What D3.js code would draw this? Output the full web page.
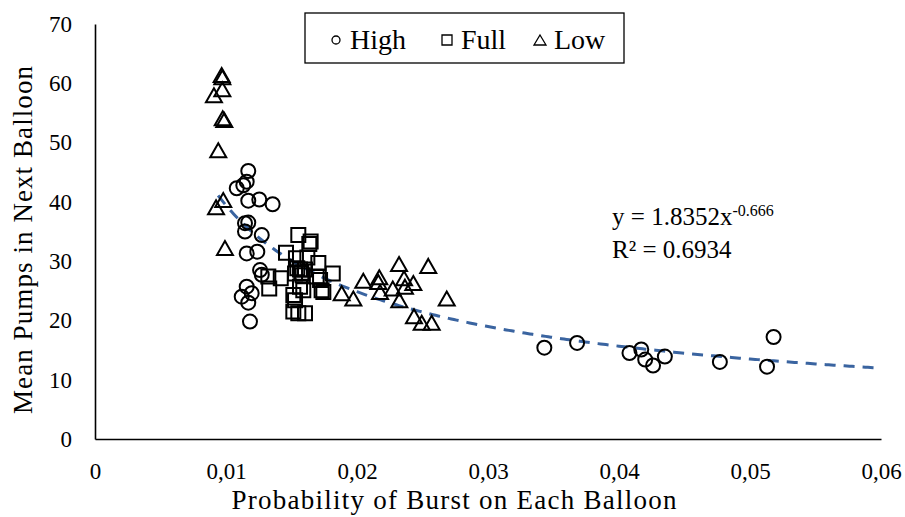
<!DOCTYPE html>
<html>
<head>
<meta charset="utf-8">
<script src="https://cdn.jsdelivr.net/npm/d3@7"></script>
<style>
  body { margin: 0; background: #fff; }
  svg { display: block; font-family: "Liberation Serif", "DejaVu Serif", serif; }
</style>
</head>
<body>
<div id="chart"></div>
<script>
// burst probability (x) and mean pumps (y)
const highX = [0.0343, 0.0368, 0.0408, 0.0417, 0.0420, 0.0426, 0.0435, 0.0477, 0.0513, 0.0518,
    0.01082, 0.01132, 0.01158, 0.0117, 0.0117, 0.01254, 0.01356, 0.01145, 0.0117, 0.01145,
    0.01273, 0.01158, 0.01239, 0.0126, 0.01273, 0.01158, 0.01196, 0.0112, 0.0117, 0.01183];
const highY = [15.4, 16.2, 14.5, 15.1, 13.4, 12.4, 13.9, 13.0, 12.2, 17.2,
    42.3, 42.8, 43.4, 45.2, 40.2, 40.4, 39.6, 36.4, 36.5, 35.0,
    34.4, 31.3, 31.6, 28.5, 27.7, 25.7, 24.6, 24.0, 23.0, 19.8];

const fullX = [0.01552, 0.01646, 0.01636, 0.01458, 0.01534, 0.01621, 0.01705, 0.01815, 0.01323, 0.01418,
    0.01544, 0.01565, 0.01603, 0.01527, 0.01692, 0.01718, 0.0133, 0.01565, 0.0159, 0.0173,
    0.01743, 0.01514, 0.01527, 0.01514, 0.01552, 0.01603, 0.01575, 0.01585];
const fullY = [34.4, 33.3, 32.9, 31.4, 30.5, 30.6, 29.7, 27.9, 27.4, 27.1,
    28.8, 28.6, 28.6, 27.9, 27.4, 26.8, 25.4, 25.7, 25.1, 25.1,
    24.8, 24.3, 23.4, 21.5, 21.2, 21.2, 28.0, 27.6];

const lowX = [0.00967, 0.00972, 0.00972, 0.00908, 0.00975, 0.00987, 0.00941, 0.00979, 0.00924, 0.00992,
    0.01883, 0.01972, 0.02048, 0.0217, 0.02163, 0.02176, 0.02273, 0.02321, 0.02359, 0.02366,
    0.0243, 0.02323, 0.02544, 0.02685, 0.02435, 0.02494, 0.0257];
const lowY = [61.4, 61.0, 59.0, 58.0, 54.1, 53.8, 48.7, 40.3, 39.1, 32.2,
    24.6, 23.7, 26.7, 27.3, 26.5, 24.8, 25.4, 29.5, 27.1, 25.7,
    26.3, 23.4, 29.2, 23.7, 20.7, 19.6, 19.6];

const seriesNames = ["High", "Full", "Low"];
const xTicks = [0, 0.01, 0.02, 0.03, 0.04, 0.05, 0.06];
const yTicks = [0, 10, 20, 30, 40, 50, 60, 70];

// power trendline from the chart label
const fitA = 1.8352, fitB = -0.666;
const fitR2 = "0.6934";
const fitStart = 0.0094;

const W = 905, H = 517;
const margin = { top: 24, right: 24, bottom: 78, left: 95 };
const width = W - margin.left - margin.right,
    height = H - margin.top - margin.bottom;

const svg = d3.select("#chart").append("svg")
    .attr("width", W)
    .attr("height", H);

const g = svg.append("g")
    .attr("transform", `translate(${margin.left},${margin.top})`);

const x = d3.scaleLinear().domain([0, 0.06]).range([0, width]);
const y = d3.scaleLinear().domain([0, 70]).range([height, 0]);

// axes (lines only, no ticks)
const xAxis = g.append("g")
    .attr("transform", `translate(0,${height})`)
    .call(d3.axisBottom(x).tickValues(xTicks).tickSize(0).tickPadding(24)
        .tickFormat(d => d === 0 ? "0" : d3.format(".2f")(d).replace(".", ",")));
const yAxis = g.append("g")
    .call(d3.axisLeft(y).tickValues(yTicks).tickSize(0).tickPadding(23));

[xAxis, yAxis].forEach(a => {
    a.select(".domain").attr("stroke", "#000").attr("stroke-width", 1.6);
    a.selectAll("text").attr("font-size", 23).attr("fill", "#000")
        .attr("font-family", "Liberation Serif, serif");
});

// trendline
const lineX = d3.range(fitStart, 0.06 + 1e-9, 0.0002);
const line = d3.line()
    .x(d => x(d))
    .y(d => y(fitA * Math.pow(d, fitB)));
g.append("path")
    .datum(lineX)
    .attr("d", line)
    .attr("fill", "none")
    .attr("stroke", "#3a64a0")
    .attr("stroke-width", 3)
    .attr("stroke-dasharray", "11,8");

// marker shapes
function circlePath(cx, cy) {
    const r = 7;
    return `M${cx + r},${cy}A${r},${r} 0 1,1 ${cx - r},${cy}A${r},${r} 0 1,1 ${cx + r},${cy}Z`;
}
function squarePath(cx, cy) {
    const s = 7;
    return `M${cx - s},${cy - s}H${cx + s}V${cy + s}H${cx - s}Z`;
}
function trianglePath(cx, cy) {
    const hw = 8, hh = 7;
    return `M${cx},${cy - hh}L${cx + hw},${cy + hh}L${cx - hw},${cy + hh}Z`;
}

const series = [
    { xs: highX, ys: highY, shape: circlePath },
    { xs: fullX, ys: fullY, shape: squarePath },
    { xs: lowX, ys: lowY, shape: trianglePath }
];

series.forEach(s => {
    g.append("g").selectAll("path")
        .data(d3.range(s.xs.length))
        .enter().append("path")
        .attr("d", i => s.shape(x(s.xs[i]), y(s.ys[i])))
        .attr("fill", "none")
        .attr("stroke", "#000")
        .attr("stroke-width", 2);
});

// trendline label
const eq = g.append("text")
    .attr("x", x(0.03947))
    .attr("y", y(36.1))
    .attr("font-size", 25)
    .attr("fill", "#000");
eq.append("tspan").text(`y = ${fitA}x`);
eq.append("tspan").attr("dy", -9).attr("font-size", 16).text(fitB);
g.append("text")
    .attr("x", x(0.03947))
    .attr("y", y(30.5))
    .attr("font-size", 25)
    .attr("fill", "#000")
    .text(`R² = ${fitR2}`);

// legend
const legend = svg.append("g").attr("transform", "translate(305,13)");
legend.append("rect")
    .attr("width", 319).attr("height", 50)
    .attr("fill", "#fff").attr("stroke", "#000").attr("stroke-width", 1.3);
const legendShapes = [
    (cx, cy) => `M${cx + 4},${cy}A4,4 0 1,1 ${cx - 4},${cy}A4,4 0 1,1 ${cx + 4},${cy}Z`,
    (cx, cy) => `M${cx - 5},${cy - 5}H${cx + 5}V${cy + 5}H${cx - 5}Z`,
    (cx, cy) => `M${cx},${cy - 5}L${cx + 6},${cy + 5}L${cx - 6},${cy + 5}Z`
];
const legendX = [31, 142, 235];
seriesNames.forEach((name, i) => {
    legend.append("path")
        .attr("d", legendShapes[i](legendX[i], 27))
        .attr("fill", "none").attr("stroke", "#000").attr("stroke-width", 1.3);
    legend.append("text")
        .attr("x", legendX[i] + 14)
        .attr("y", 36)
        .attr("font-size", 28)
        .attr("fill", "#000")
        .text(name);
});

// axis titles
svg.append("text")
    .attr("x", 454)
    .attr("y", 509)
    .attr("text-anchor", "middle")
    .attr("font-size", 27)
    .attr("textLength", 445)
    .attr("lengthAdjust", "spacing")
    .attr("fill", "#000")
    .text("Probability of Burst on Each Balloon");

svg.append("text")
    .attr("transform", "rotate(-90)")
    .attr("x", -240)
    .attr("y", 32)
    .attr("text-anchor", "middle")
    .attr("font-size", 27)
    .attr("textLength", 348)
    .attr("lengthAdjust", "spacing")
    .attr("fill", "#000")
    .text("Mean Pumps in Next Balloon");
</script>
</body>
</html>
